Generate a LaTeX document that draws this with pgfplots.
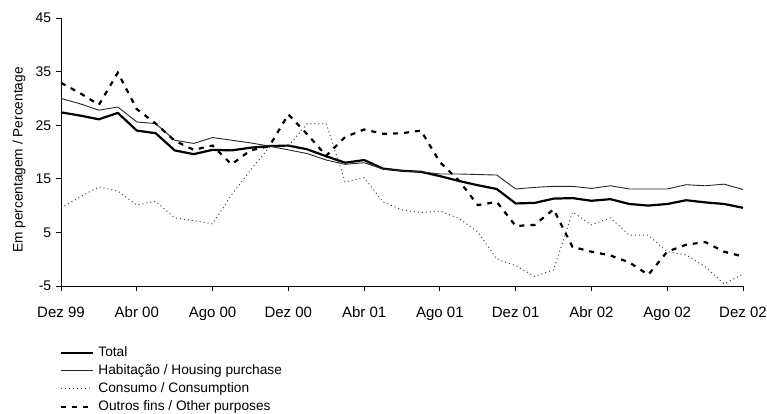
\documentclass[border=0pt]{standalone}
\usepackage{pgfplots}
\pgfplotsset{compat=1.18}
\usepackage{pgfplotstable}
\usepackage{fontspec}
\setmainfont{Liberation Sans}

\pgfplotstableread{
m tot hab con out
0 27.4 30.0 9.6 32.9
1 26.8 29.0 11.6 31.0
2 26.1 27.8 13.5 28.8
3 27.3 28.4 12.7 34.8
4 24.0 25.6 10.1 28.0
5 23.5 25.3 10.8 25.3
6 20.3 22.2 7.7 22.1
7 19.6 21.6 7.2 20.4
8 20.4 22.7 6.6 21.2
9 20.3 22.2 12.0 17.7
10 20.8 21.7 16.6 20.3
11 21.1 21.1 20.9 21.1
12 21.2 20.4 21.1 27.0
13 20.5 19.7 25.3 23.3
14 19.2 18.5 25.3 19.3
15 18.0 17.7 14.4 22.8
16 18.5 18.0 15.2 24.2
17 16.9 16.8 10.7 23.4
18 16.5 16.5 9.2 23.5
19 16.3 16.3 8.7 24.0
20 15.5 15.9 9.0 18.1
21 14.6 15.9 7.6 14.7
22 13.8 15.8 5.1 10.1
23 13.1 15.7 0.0 10.7
24 10.4 13.1 -1.2 6.2
25 10.5 13.4 -3.2 6.4
26 11.3 13.6 -2.0 9.3
27 11.4 13.6 8.8 2.3
28 10.9 13.2 6.4 1.4
29 11.2 13.7 7.7 0.7
30 10.3 13.1 4.5 -0.6
31 10.0 13.1 4.5 -2.9
32 10.3 13.1 1.4 1.4
33 11.0 13.9 0.8 2.7
34 10.6 13.7 -1.4 3.2
35 10.3 14.0 -4.6 1.4
36 9.6 13.0 -2.8 0.5
}\datatable

\begin{document}
\fontsize{13.7pt}{16pt}\selectfont
\begin{tikzpicture}
\useasboundingbox (-61pt,-128pt) rectangle (706pt,286pt);
\begin{axis}[
  at={(0pt,0pt)}, anchor=south west,
  scale only axis, width=682pt, height=268pt,
  xmin=0, xmax=36, ymin=-5, ymax=45,
  axis x line*=bottom, axis y line*=left,
  axis line style={black, line width=0.8pt},
  xtick={0,4,...,36},
  xticklabels={Dez 99,Abr 00,Ago 00,Dez 00,Abr 01,Ago 01,Dez 01,Abr 02,Ago 02,Dez 02},
  ytick={-5,5,15,25,35,45},
  tick align=outside, major tick length=5pt,
  tick style={black, line width=0.8pt},
  /pgf/number format/assume math mode=true,
  yticklabel style={font=\fontsize{14pt}{16pt}\selectfont},
  xticklabel style={yshift=-11pt, font=\fontsize{15pt}{17pt}\selectfont},
  ylabel={Em percentagem / Percentage},
  ylabel style={at={(axis description cs:-0.0616,0.47)}, anchor=center},
  legend style={at={(rel axis cs:0,0)}, xshift=-1pt, yshift=-60pt, anchor=north west,
    draw=none, fill=none, inner sep=0pt, row sep=5pt, column sep=4pt,
    nodes={inner sep=0pt, text height=10pt, text depth=3pt}},
  legend cell align=left,
  legend image code/.code={\draw[#1] (0pt,0pt) -- (32pt,0pt);},
]
\addplot[black, line width=2.2pt, line join=round] table[x=m, y=tot] {\datatable};
\addlegendentry{Total}
\addplot[black!85, line width=0.9pt, line join=round] table[x=m, y=hab] {\datatable};
\addlegendentry{Habitação / Housing purchase}
\addplot[black!75, line width=1pt, dash pattern=on 1pt off 3pt] table[x=m, y=con] {\datatable};
\addlegendentry{Consumo / Consumption}
\addplot[black, line width=2.2pt, dash pattern=on 5pt off 6pt] table[x=m, y=out] {\datatable};
\addlegendentry{Outros fins / Other purposes}
\end{axis}
\end{tikzpicture}
\end{document}
